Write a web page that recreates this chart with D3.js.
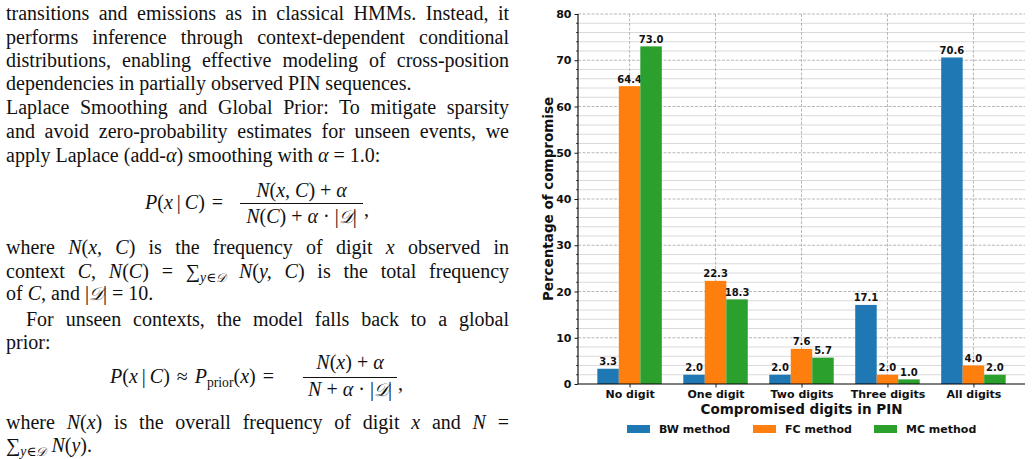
<!DOCTYPE html>
<html>
<head>
<meta charset="utf-8">
<script src="https://cdn.jsdelivr.net/npm/d3@7"></script>
<style>
  body { margin: 0; width: 1032px; height: 459px; background: #fff; overflow: hidden; position: relative; }
  .ln { position: absolute; left: 6px; font-family: "Liberation Serif", "DejaVu Serif", serif; font-size: 20px; line-height: 22px; white-space: nowrap; color: #111; }
  .ln i, .m i { font-style: italic; }
  .m { position: absolute; font-family: "Liberation Serif", "DejaVu Serif", serif; font-size: 20px; line-height: 22px; white-space: nowrap; color: #111; }
  .cal { font-family: "DejaVu Serif", serif; font-style: italic; font-size: 0.9em; }
  .rel { display: inline-block; margin: 0 7px; }
  .op { display: inline-block; margin: 0 5px; }
  .bar-op { display: inline-block; margin: 0 4px; }
  sub { font-size: 0.68em; vertical-align: -0.3em; line-height: 0; }
  .bar { position: absolute; height: 1px; background: #111; }
  #chart { position: absolute; left: 0; top: 0; }
</style>
</head>
<body>
<div id="text"></div>
<svg id="chart" width="1032" height="459"></svg>
<script>
// ---- chart data ----
const categories = ["No digit", "One digit", "Two digits", "Three digits", "All digits"];
const methods = ["BW method", "FC method", "MC method"];
const bwValues = [3.3, 2.0, 2.0, 17.1, 70.6];
const fcValues = [64.4, 22.3, 7.6, 2.0, 4.0];
const mcValues = [73.0, 18.3, 5.7, 1.0, 2.0];
const yTicks = [0, 10, 20, 30, 40, 50, 60, 70, 80];
const colors = ["#1f77b4", "#ff7f0e", "#2ca02c"];

// ---- left column text ----
const D = '<span class="cal">𝒟</span>';
const textLines = [
  { y: 14, full: true, html: "transitions and emissions as in classical HMMs. Instead, it" },
  { y: 37.5, full: true, html: "performs inference through context-dependent conditional" },
  { y: 61, full: true, html: "distributions, enabling effective modeling of cross-position" },
  { y: 84, full: false, html: "dependencies in partially observed PIN sequences." },
  { y: 108, full: true, html: "Laplace Smoothing and Global Prior: To mitigate sparsity" },
  { y: 132, full: true, html: "and avoid zero-probability estimates for unseen events, we" },
  { y: 156, full: false, html: "apply Laplace (add-<i>α</i>) smoothing with <i>α</i> = 1.0:" },
  { y: 248, full: true, html: "where <i>N</i>(<i>x, C</i>) is the frequency of digit <i>x</i> observed in" },
  { y: 272, full: true, html: "context <i>C</i>, <i>N</i>(<i>C</i>) = ∑<sub><i>y</i>∈" + D + "</sub> <i>N</i>(<i>y, C</i>) is the total frequency" },
  { y: 294, full: false, html: "of <i>C</i>, and |" + D + "| = 10." },
  { y: 320, full: true, indent: 20, html: "For unseen contexts, the model falls back to a global" },
  { y: 343, full: false, html: "prior:" },
  { y: 423, full: true, html: "where <i>N</i>(<i>x</i>) is the overall frequency of digit <i>x</i> and <i>N</i> =" },
  { y: 446, full: false, html: "∑<sub><i>y</i>∈" + D + "</sub> <i>N</i>(<i>y</i>)." }
];
const textRight = 509;

const textBox = d3.select("#text");
textLines.forEach(function(l) {
  const left = 6 + (l.indent || 0);
  const div = textBox.append("div")
    .attr("class", "ln")
    .style("left", left + "px")
    .style("top", (l.y - 12) + "px")
    .html(l.html);
  if (l.full) {
    const w = div.node().getBoundingClientRect().width;
    const spaces = (div.node().textContent.match(/ /g) || []).length;
    div.style("word-spacing", ((textRight - left - w) / spaces) + "px");
  }
});

// formulas
function formula(lhsHtml, lhsX, numHtml, denHtml, fx0, fx1, yc, yNum, yDen) {
  textBox.append("div").attr("class", "m")
    .style("left", lhsX + "px").style("top", (yc - 12) + "px").html(lhsHtml);
  textBox.append("div").attr("class", "m")
    .style("left", fx0 + "px").style("width", (fx1 - fx0) + "px")
    .style("text-align", "center").style("top", (yNum - 12) + "px").html(numHtml);
  textBox.append("div").attr("class", "bar")
    .style("left", fx0 + "px").style("width", (fx1 - fx0) + "px").style("top", yc + "px");
  textBox.append("div").attr("class", "m")
    .style("left", fx0 + "px").style("width", (fx1 - fx0) + "px")
    .style("text-align", "center").style("top", (yDen - 12) + "px").html(denHtml);
  textBox.append("div").attr("class", "m")
    .style("left", (fx1 + 1) + "px").style("top", (yc - 5) + "px").html(",");
}
formula("<i>P</i>(<i>x</i><span class='bar-op'>|</span><i>C</i>)<span class='rel'>=</span>", 145,
  "<i>N</i>(<i>x, C</i>)<span class='op'>+</span><i>α</i>",
  "<i>N</i>(<i>C</i>)<span class='op'>+</span><i>α</i><span class='op'>·</span>|" + D + "|",
  240, 363, 203, 191, 217);
formula("<i>P</i>(<i>x</i><span class='bar-op'>|</span><i>C</i>)<span class='rel'>≈</span><i>P</i><sub>prior</sub>(<i>x</i>)<span class='rel'>=</span>", 110,
  "<i>N</i>(<i>x</i>)<span class='op'>+</span><i>α</i>",
  "<i>N</i><span class='op'>+</span><i>α</i><span class='op'>·</span>|" + D + "|",
  303, 397, 377, 363, 390);

// ---- bar chart ----
const svg = d3.select("#chart");
const plotLeft = 578, plotRight = 1025, plotTop = 14, plotBottom = 384;
const font = "DejaVu Sans, sans-serif";

const x = d3.scaleLinear().domain([-0.6, 4.6]).range([plotLeft, plotRight]);
const y = d3.scaleLinear().domain([0, 80]).range([plotBottom, plotTop]);
const barW = 0.25;
const series = [bwValues, fcValues, mcValues];

// minor gridlines every 2
const minorTicks = d3.range(0, 81, 2).filter(v => v % 10 !== 0);
svg.append("g").selectAll("line").data(minorTicks).enter().append("line")
  .attr("x1", plotLeft).attr("x2", plotRight)
  .attr("y1", d => y(d)).attr("y2", d => y(d))
  .attr("stroke", "#dadada").attr("stroke-width", 1);

// major gridlines
svg.append("g").selectAll("line").data(yTicks.slice(1)).enter().append("line")
  .attr("x1", plotLeft).attr("x2", plotRight)
  .attr("y1", d => y(d)).attr("y2", d => y(d))
  .attr("stroke", "#b0b0b0").attr("stroke-width", 0.9).attr("stroke-dasharray", "3,1.5");
svg.append("g").selectAll("line").data(categories).enter().append("line")
  .attr("x1", (d, i) => x(i)).attr("x2", (d, i) => x(i))
  .attr("y1", plotTop).attr("y2", plotBottom)
  .attr("stroke", "#b0b0b0").attr("stroke-width", 0.9).attr("stroke-dasharray", "3,1.5");

// bars + labels
series.forEach(function(vals, j) {
  const off = (j - 1) * barW;
  const g = svg.append("g");
  g.selectAll("rect").data(vals).enter().append("rect")
    .attr("x", (d, i) => x(i + off - barW / 2))
    .attr("width", x(barW) - x(0))
    .attr("y", d => y(d))
    .attr("height", d => y(0) - y(d))
    .attr("fill", colors[j]);
  g.selectAll("text").data(vals).enter().append("text")
    .attr("x", (d, i) => x(i + off))
    .attr("y", d => y(d) - 3.5)
    .attr("text-anchor", "middle")
    .attr("font-family", font).attr("font-weight", "bold").attr("font-size", 10)
    .attr("fill", "#111")
    .text(d => d.toFixed(1));
});

// y axis
const yAxis = svg.append("g").attr("transform", `translate(${plotLeft},0)`)
  .call(d3.axisLeft(y).tickValues(yTicks).tickSize(3.5).tickPadding(3).tickFormat(d3.format("d")));
yAxis.selectAll("line").attr("stroke", "#000").attr("stroke-width", 0.9);
yAxis.append("g").selectAll("line").data(minorTicks).enter().append("line")
  .attr("x1", -2).attr("x2", 0).attr("y1", d => y(d)).attr("y2", d => y(d))
  .attr("stroke", "#000").attr("stroke-width", 0.7);
yAxis.select(".domain").attr("d", `M0,${plotTop}V${plotBottom}`).attr("stroke", "#000").attr("stroke-width", 1.1);
yAxis.selectAll("text").attr("font-family", font).attr("font-weight", "bold").attr("font-size", 11).attr("fill", "#111");

// x axis
const xAxis = svg.append("g").attr("transform", `translate(0,${plotBottom})`)
  .call(d3.axisBottom(x).tickValues(d3.range(categories.length)).tickSize(3.5).tickPadding(3)
    .tickFormat(i => categories[i]));
xAxis.selectAll("line").attr("stroke", "#000").attr("stroke-width", 0.9);
xAxis.select(".domain").attr("d", `M${plotLeft},0H${plotRight}`).attr("stroke", "#000").attr("stroke-width", 1.1);
xAxis.selectAll("text").attr("font-family", font).attr("font-weight", "bold").attr("font-size", 11).attr("fill", "#111");

// axis titles
svg.append("text")
  .attr("x", (plotLeft + plotRight) / 2).attr("y", 414)
  .attr("text-anchor", "middle")
  .attr("font-family", font).attr("font-weight", "bold").attr("font-size", 13.5).attr("fill", "#111")
  .text("Compromised digits in PIN");
svg.append("text")
  .attr("transform", `translate(553,${(plotTop + plotBottom) / 2}) rotate(-90)`)
  .attr("text-anchor", "middle")
  .attr("font-family", font).attr("font-weight", "bold").attr("font-size", 13.5).attr("fill", "#111")
  .text("Percentage of compromise");

// legend
const legendX = [627, 753, 874];
const legend = svg.append("g").selectAll("g").data(methods).enter().append("g")
  .attr("transform", (d, i) => `translate(${legendX[i]},429)`);
legend.append("rect").attr("x", 0).attr("y", -4).attr("width", 23).attr("height", 8)
  .attr("fill", (d, i) => colors[i]);
legend.append("text").attr("x", 32).attr("y", 4)
  .attr("font-family", font).attr("font-weight", "bold").attr("font-size", 11).attr("fill", "#111")
  .text(d => d);
</script>
</body>
</html>
